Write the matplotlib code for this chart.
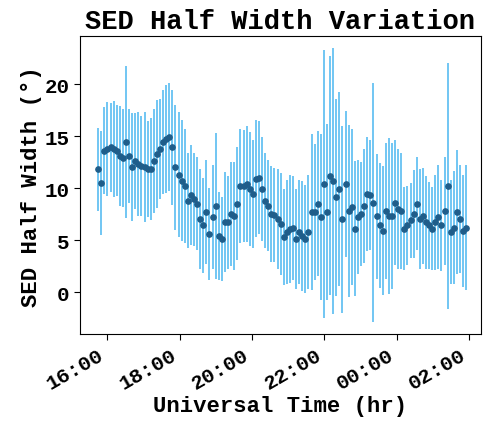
import matplotlib
matplotlib.use("Agg")
import matplotlib.pyplot as plt
import matplotlib.dates as mdates
import pandas as pd

# SED half width (degrees) and its uncertainty, sampled through the night
half_width = [
    11.8, 10.5, 13.6, 13.75, 13.9, 13.75, 13.6, 13.1, 12.9, 14.4, 13.1, 12.0,
    12.6, 12.3, 12.1, 12.0, 11.8, 11.8, 12.6, 13.3, 13.75, 14.4, 14.7,
    14.9, 13.9, 12.0, 11.3, 10.7, 10.2, 8.8, 9.3, 8.9, 8.5, 7.0, 6.4, 7.7, 5.6,
    7.2, 8.3, 5.4, 5.1, 6.7, 6.7, 7.5, 7.3, 8.5, 10.2,
    10.2, 10.4, 9.9, 9.4, 10.9, 11.0, 9.9, 8.8, 8.3, 7.5, 7.4, 7.0, 6.5, 5.3,
    5.8, 6.1, 6.2, 5.1, 5.8, 5.4, 5.1, 5.8, 7.7,
    7.7, 8.5, 7.2, 10.4, 7.7, 11.2, 10.7, 9.1, 9.9, 7.0, 10.4, 7.8, 8.2, 6.1,
    7.2, 7.5, 8.3, 9.4, 9.3, 8.6, 7.3, 6.4, 5.9, 7.8, 7.3, 7.3, 8.6,
    8.0, 7.8, 6.1, 6.4, 6.9, 7.5, 8.5, 7.0, 7.3, 6.7, 6.4, 6.1, 6.7, 7.2, 6.4,
    7.8, 10.2, 5.8, 6.2, 7.7, 7.0, 5.9, 6.2,
]
half_width_err = [
    4.0, 5.0, 4.2, 4.5, 4.3, 4.6, 4.4, 4.8, 4.7, 7.3, 4.5, 5.2,
    4.6, 5.0, 4.8, 5.3, 4.6, 4.9, 5.0, 5.2, 4.8, 5.0, 5.2,
    5.2, 5.5, 6.0, 6.0, 5.8, 5.5, 4.6, 4.8, 4.5, 4.5, 4.8, 4.6, 5.0, 4.4,
    5.0, 7.0, 4.2, 4.0, 4.8, 4.5, 5.0, 5.2, 5.4, 5.5,
    5.4, 5.6, 5.5, 5.2, 5.6, 5.4, 5.0, 4.6, 4.4, 4.6, 4.5, 4.8, 4.9, 4.6,
    5.0, 5.2, 5.0, 4.8, 5.0, 5.3, 5.2, 5.5, 7.5,
    6.5, 7.0, 8.0, 12.9, 8.5, 11.5, 12.8, 9.5, 9.3, 9.0, 7.0, 8.3, 7.5, 6.5,
    5.5, 5.0, 5.5, 5.5, 5.3, 11.5, 6.0, 6.0, 6.2, 6.5, 7.5, 7.0, 6.0,
    5.8, 5.6, 4.0, 3.8, 3.6, 4.2, 4.5, 4.8, 4.6, 4.5, 4.2, 4.0, 4.6, 5.0, 4.4,
    5.2, 11.8, 5.0, 5.4, 6.0, 5.2, 5.4, 6.0,
]
obs_start = "2021-03-10 15:45"
obs_end = "2021-03-11 01:55"
times = pd.date_range(obs_start, obs_end, periods=len(half_width))

font = "Liberation Mono"
plt.rcParams["font.family"] = [font, "DejaVu Sans"]
plt.rcParams["font.weight"] = "bold"

fig = plt.figure(figsize=(4.91, 4.27), dpi=100)
ax = fig.add_axes([0.163, 0.215, 0.816, 0.698])

ax.errorbar(times, half_width, yerr=half_width_err, fmt="o",
            color="#1f5d8a", ecolor="#66c2f2", elinewidth=1.3,
            markersize=3.8, capsize=0)

ax.set_xlim(pd.Timestamp("2021-03-10 15:15"), pd.Timestamp("2021-03-11 02:19"))
ax.set_ylim(-4.05, 24.6)
ax.set_yticks([0, 5, 10, 15, 20])

ax.xaxis.set_major_locator(mdates.HourLocator(byhour=range(0, 24, 2)))
ax.xaxis.set_major_formatter(mdates.DateFormatter("%H:%M"))
for lbl in ax.get_xticklabels():
    lbl.set_rotation(30)
    lbl.set_ha("right")
ax.tick_params(axis="both", labelsize=15, direction="out", length=4)

ax.set_title("SED Half Width Variation", fontsize=19.5, fontweight="bold", pad=6)
ax.set_xlabel("Universal Time (hr)", fontsize=16, fontweight="bold", labelpad=2)
ax.set_ylabel("SED Half Width (°)", fontsize=16, fontweight="bold", labelpad=2)

fig.savefig("out.png", dpi=100)
